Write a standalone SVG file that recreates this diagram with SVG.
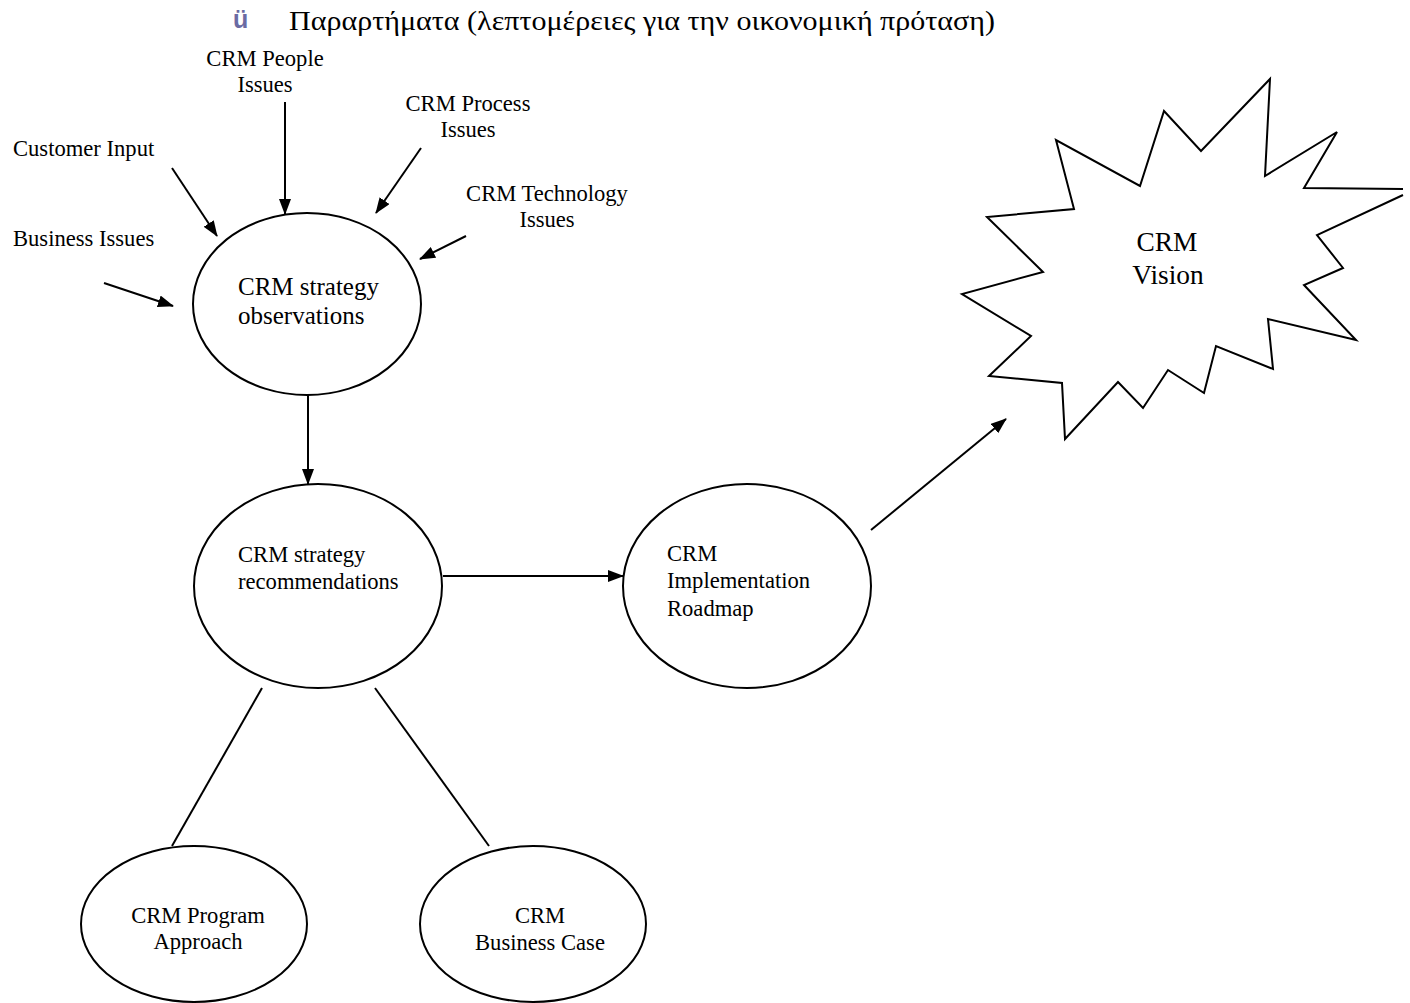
<svg xmlns="http://www.w3.org/2000/svg" width="1410" height="1003" viewBox="0 0 1410 1003">
<style>
text{font-family:"Liberation Serif","Times New Roman",serif;fill:#000}
.s{font-size:22.6px}
.c{text-anchor:middle}
.node{fill:#fff;stroke:#000;stroke-width:2}
.ln{stroke:#000;stroke-width:2;fill:none}
</style>
<defs>
<marker id="ah" viewBox="0 0 16 12" refX="15" refY="6" markerWidth="16" markerHeight="12" markerUnits="userSpaceOnUse" orient="auto">
<path d="M0,0 L16,6 L0,12 Z" fill="#000"/>
</marker>
</defs>
<rect width="1410" height="1003" fill="#fff"/>
<g id="title">
<text x="233" y="28" style="font-family:'Liberation Sans',Arial,sans-serif;font-weight:bold;font-size:25px;fill:#6b6ba3">ü</text>
<text x="289" y="30" textLength="706" lengthAdjust="spacingAndGlyphs" style="font-size:27px">Παραρτήματα (λεπτομέρειες για την οικονομική πρόταση)</text>
</g>
<g id="connectors">
<line class="ln" x1="285" y1="102" x2="285" y2="214" marker-end="url(#ah)"/>
<line class="ln" x1="421" y1="148" x2="376" y2="213" marker-end="url(#ah)"/>
<line class="ln" x1="172" y1="168" x2="217" y2="236" marker-end="url(#ah)"/>
<line class="ln" x1="466" y1="236" x2="420" y2="259" marker-end="url(#ah)"/>
<line class="ln" x1="104" y1="283" x2="173" y2="306" marker-end="url(#ah)"/>
<line class="ln" x1="308" y1="395" x2="308" y2="484" marker-end="url(#ah)"/>
<line class="ln" x1="443" y1="576" x2="623" y2="576" marker-end="url(#ah)"/>
<line class="ln" x1="871" y1="530" x2="1006" y2="419" marker-end="url(#ah)"/>
<line class="ln" x1="262" y1="688" x2="172" y2="846"/>
<line class="ln" x1="375" y1="688" x2="489" y2="846"/>
</g>
<g id="label-people"><text class="s c" x="265" y="66">CRM People</text><text class="s c" x="265" y="92">Issues</text></g>
<g id="label-process"><text class="s c" x="468" y="111">CRM Process</text><text class="s c" x="468" y="137">Issues</text></g>
<g id="label-customer"><text class="s" x="13" y="156">Customer Input</text></g>
<g id="label-technology"><text class="s c" x="547" y="201">CRM Technology</text><text class="s c" x="547" y="227">Issues</text></g>
<g id="label-business"><text class="s" x="13" y="246">Business Issues</text></g>
<g id="node-observations">
<ellipse class="node" cx="307" cy="304" rx="114" ry="91"/>
<text x="238" y="295" style="font-size:25px">CRM strategy</text>
<text x="238" y="324" style="font-size:25px">observations</text>
</g>
<g id="node-recommendations">
<ellipse class="node" cx="318" cy="586" rx="124" ry="102"/>
<text class="s" x="238" y="562">CRM strategy</text>
<text class="s" x="238" y="589">recommendations</text>
</g>
<g id="node-implementation">
<ellipse class="node" cx="747" cy="586" rx="124" ry="102"/>
<text class="s" x="667" y="561">CRM</text>
<text class="s" x="667" y="588">Implementation</text>
<text class="s" x="667" y="616">Roadmap</text>
</g>
<g id="node-program">
<ellipse class="node" cx="194" cy="924" rx="113" ry="78"/>
<text class="s c" x="198" y="923">CRM Program</text>
<text class="s c" x="198" y="949">Approach</text>
</g>
<g id="node-businesscase">
<ellipse class="node" cx="533" cy="924" rx="113" ry="78"/>
<text class="s c" x="540" y="923">CRM</text>
<text class="s c" x="540" y="950">Business Case</text>
</g>
<g id="node-vision">
<polyline class="ln" fill="#fff" points="1403,195 1317,235 1343,268 1304,285 1356,340 1268,319 1273,369 1216,346 1204,393 1168,370 1143,408 1118,382 1065,439 1062,383 989,376 1031,336 962,294 1043,272 987,217 1074,209 1056,140 1140,186 1164,111 1201,151 1270,79 1265,176 1337,132 1304,188 1403,189"/>
<text class="c" x="1167" y="251" style="font-size:27.4px">CRM</text>
<text class="c" x="1168" y="284" style="font-size:27.4px">Vision</text>
</g>
</svg>
